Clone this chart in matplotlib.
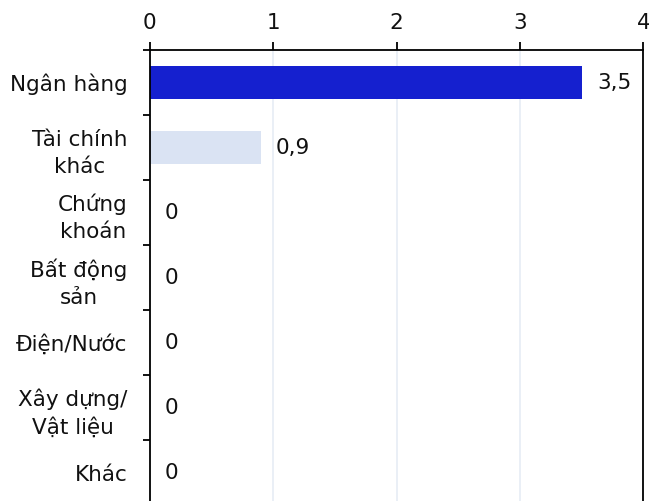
import matplotlib.pyplot as plt
from matplotlib.ticker import FixedLocator

categories = ["Ngân hàng", "Tài chính\nkhác", "Chứng\nkhoán", "Bất động\nsản",
              "Điện/Nước", "Xây dựng/\nVật liệu", "Khác"]
values = [3.5, 0.9, 0, 0, 0, 0, 0]
bar_colors = ["#1520cf", "#dae3f3", "#dae3f3", "#dae3f3", "#dae3f3", "#dae3f3", "#dae3f3"]
xticks = [0, 1, 2, 3, 4]

plt.rcParams["font.family"] = ["DejaVu Sans"]
FS = 15.5

fig = plt.figure(figsize=(6.49, 5.01), dpi=100)
ax = fig.add_axes([0.2307, -0.008, 0.7606, 0.9082])

pos = list(range(len(categories)))
ax.barh(pos, values, height=0.5, color=bar_colors, zorder=2)

for y, v in zip(pos, values):
    txt = ("%g" % v).replace(".", ",")
    ax.annotate(txt, (v, y), xytext=(11, 0), textcoords="offset points",
                va="center", ha="left", fontsize=FS, color="#111111")

ax.set_xlim(0, 4)
ax.set_ylim(len(categories) - 0.5, -0.5)

# x axis on top, light vertical grid
ax.xaxis.tick_top()
ax.set_xticks(xticks)
ax.set_xticklabels([str(t) for t in xticks])
ax.tick_params(axis="x", which="major", direction="out", length=6, width=1.3,
               labelsize=FS, pad=6, colors="black", labelcolor="#111111")
ax.grid(axis="x", color="#e6ecf5", linewidth=1.2, zorder=0)
ax.grid(axis="y", visible=False)

# category labels centered per line, separator ticks between them
ax.yaxis.set_minor_locator(FixedLocator([p - 0.5 for p in pos] + [len(pos) - 0.5]))
ax.tick_params(axis="y", which="major", length=0, labelsize=FS, pad=16, labelcolor="#111111")
ax.tick_params(axis="y", which="minor", direction="out", length=5, width=1.3)
ax.set_yticks(pos)
ax.set_yticklabels(categories, multialignment="center", linespacing=1.45)

for side in ["top", "left", "right"]:
    ax.spines[side].set_linewidth(1.3)
ax.spines["bottom"].set_visible(False)

fig.savefig("out.png", dpi=100)
